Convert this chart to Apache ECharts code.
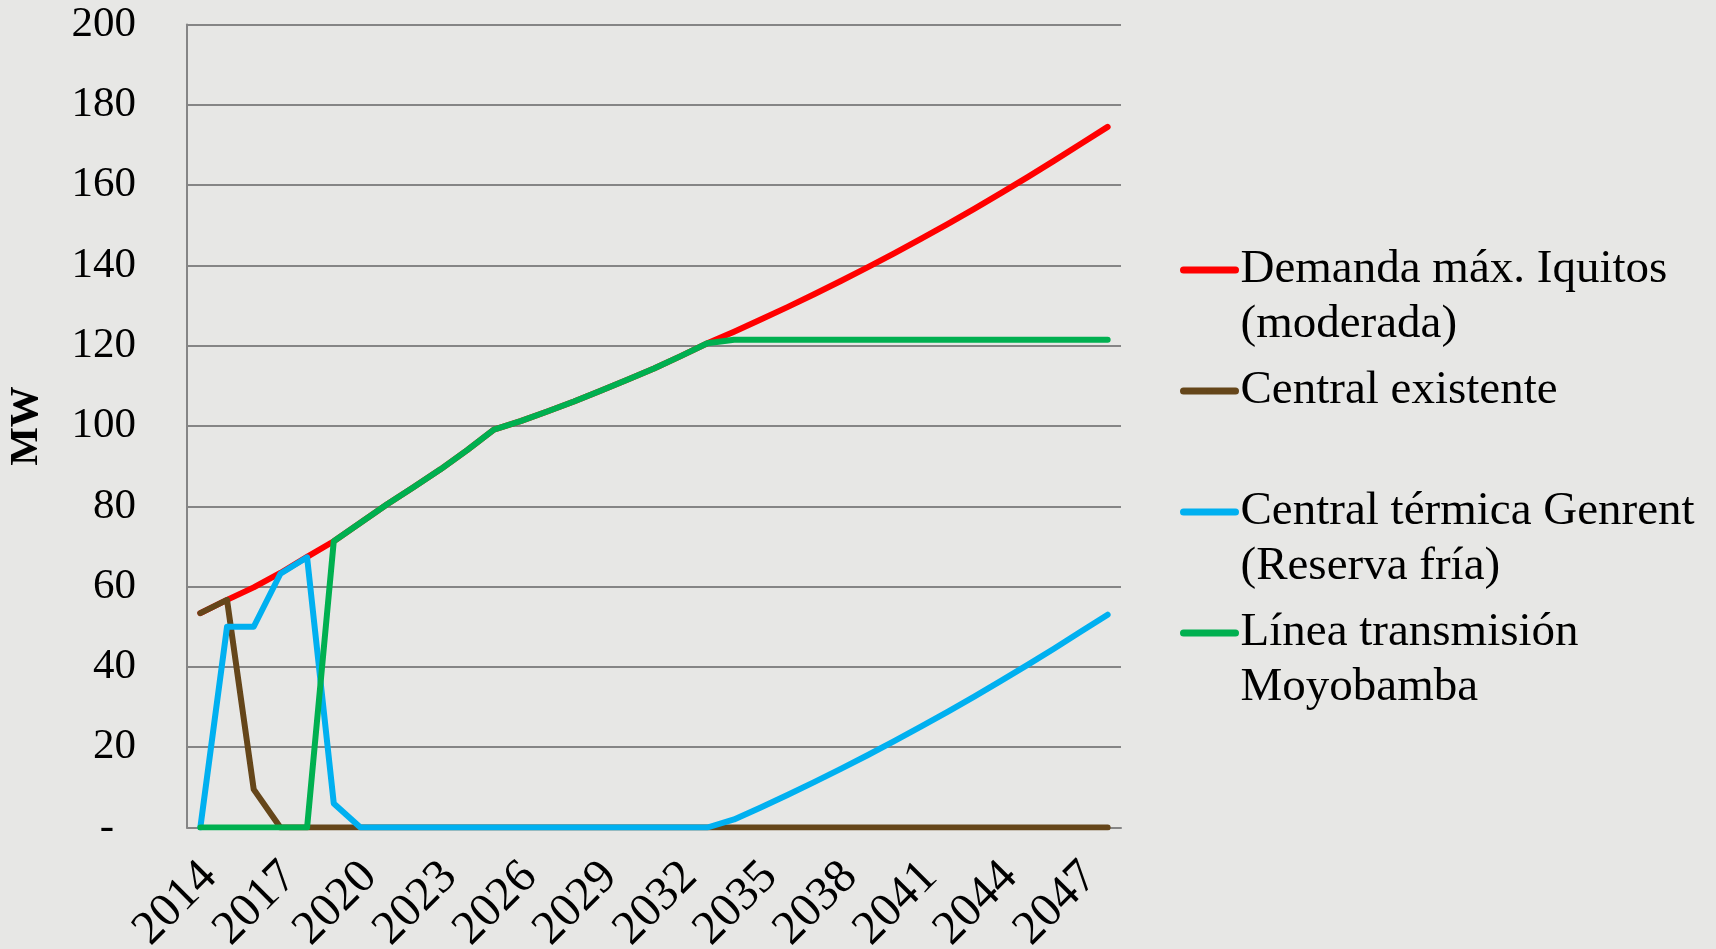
<!DOCTYPE html>
<html lang="es">
<head>
<meta charset="utf-8">
<title>Demanda Iquitos</title>
<script src="https://cdn.jsdelivr.net/npm/echarts@6/dist/echarts.min.js"></script>
<style>
  html, body { margin: 0; padding: 0; background: #e7e7e5; }
  #chart { width: 1716px; height: 949px; }
</style>
</head>
<body>
<div id="chart"></div>
<script>
// Años (eje x)
const years = ['2014', '2015', '2016', '2017', '2018', '2019', '2020', '2021', '2022', '2023',
  '2024', '2025', '2026', '2027', '2028', '2029', '2030', '2031', '2032', '2033',
  '2034', '2035', '2036', '2037', '2038', '2039', '2040', '2041', '2042', '2043',
  '2044', '2045', '2046', '2047', '2048'];

// MW
const demanda = [53.4, 56.7, 59.8, 63.4, 67.4, 71.3, 75.9, 80.5, 84.8, 89.2,
  94.0, 99.1, 101.2, 103.6, 106.1, 108.8, 111.5, 114.3, 117.4, 120.6,
  123.5, 126.5, 129.6, 132.8, 136.1, 139.5, 143.0, 146.6, 150.3, 154.1,
  158.0, 162.0, 166.1, 170.3, 174.5];
const existente = [53.4, 56.7, 9.5, 0, 0, 0, 0, 0, 0, 0,
  0, 0, 0, 0, 0, 0, 0, 0, 0, 0,
  0, 0, 0, 0, 0, 0, 0, 0, 0, 0,
  0, 0, 0, 0, 0];
const genrent = [0, 50, 50, 63.2, 67.3, 6, 0, 0, 0, 0,
  0, 0, 0, 0, 0, 0, 0, 0, 0, 0,
  2.0, 5.0, 8.1, 11.3, 14.6, 18.0, 21.5, 25.1, 28.8, 32.6,
  36.5, 40.5, 44.6, 48.8, 53.0];
const linea = [0, 0, 0, 0, 0, 71.3, 75.9, 80.5, 84.8, 89.2,
  94.0, 99.1, 101.2, 103.6, 106.1, 108.8, 111.5, 114.3, 117.4, 120.6,
  121.5, 121.5, 121.5, 121.5, 121.5, 121.5, 121.5, 121.5, 121.5, 121.5,
  121.5, 121.5, 121.5, 121.5, 121.5];

// leyenda: la segunda entrada deja una línea vacía debajo, como en el original
const names = ['Demanda máx. Iquitos\n(moderada)', 'Central existente\n ',
  'Central térmica Genrent\n(Reserva fría)', 'Línea transmisión\nMoyobamba'];
const colors = ['#ff0000', '#65461a', '#00b0f0', '#00b050'];
const seriesData = [demanda, existente, genrent, linea];

const FONT = '"Palatino Linotype", "Book Antiqua", "Liberation Serif", serif';
const GRID = '#858585';

const chart = echarts.init(document.getElementById('chart'));

chart.setOption({
  backgroundColor: '#e7e7e5',
  animation: false,
  textStyle: { fontFamily: FONT },
  grid: {
    left: 187, top: 24.5, width: 934, height: 803,
    containLabel: false, outerBoundsMode: 'none'
  },
  legend: {
    orient: 'vertical',
    left: 1180,
    top: 187.5,
    padding: 0,
    itemGap: -44,
    itemWidth: 52,
    itemHeight: 7,
    data: names,
    selectedMode: false,
    lineStyle: { width: 7, cap: 'round' },
    // una línea en blanco arriba para que el icono quede junto a la primera línea
    formatter: function (name) { return ' \n' + name; },
    textStyle: {
      fontFamily: FONT,
      fontSize: 47,
      color: '#000',
      lineHeight: 55
    }
  },
  xAxis: {
    type: 'category',
    data: years,
    boundaryGap: true,
    axisTick: { show: false },
    axisLine: { lineStyle: { color: GRID, width: 2 } },
    axisLabel: {
      interval: 2,
      rotate: 45,
      margin: 33,
      verticalAlign: 'top',
      lineHeight: 26,
      fontFamily: FONT,
      fontSize: 48,
      color: '#000'
    }
  },
  yAxis: {
    type: 'value',
    min: 0,
    max: 200,
    interval: 20,
    name: 'MW',
    nameLocation: 'middle',
    nameGap: 140,
    nameTextStyle: { fontFamily: FONT, fontSize: 41, fontWeight: 'bold', color: '#000' },
    axisLine: { show: true, lineStyle: { color: GRID, width: 2 } },
    axisTick: { show: false },
    splitLine: { lineStyle: { color: GRID, width: 2 } },
    axisLabel: {
      margin: 51,
      fontFamily: FONT,
      fontSize: 43,
      color: '#000',
      formatter: function (v) { return v === 0 ? '{dash|-}' : String(v); },
      rich: {
        dash: { fontFamily: FONT, fontSize: 43, color: '#000', padding: [0, 22, 0, 0] }
      }
    }
  },
  series: seriesData.map(function (d, i) {
    return {
      name: names[i],
      type: 'line',
      data: d,
      symbol: 'none',
      color: colors[i],
      lineStyle: { color: colors[i], width: 6, cap: 'round', join: 'round' },
      z: 2 + i
    };
  })
});
</script>
</body>
</html>
